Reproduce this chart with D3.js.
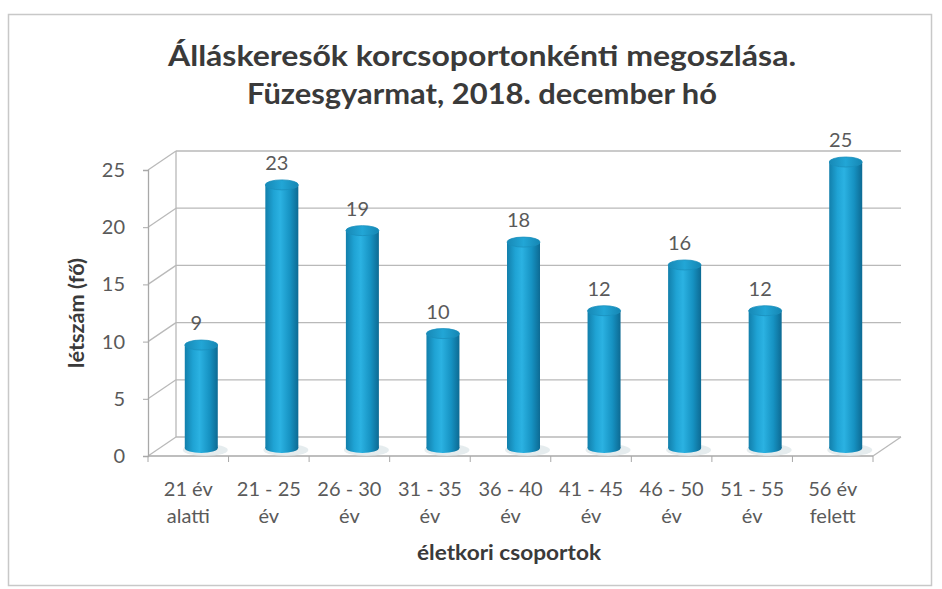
<!DOCTYPE html>
<html><head><meta charset="utf-8">
<script src="https://cdn.jsdelivr.net/npm/d3@7"></script>
<style>body{margin:0;background:#fff}svg{display:block}</style>
</head><body>
<svg id="c" width="942" height="589"></svg>
<script>
const categories = [["21 év","alatti"],["21 - 25","év"],["26 - 30","év"],["31 - 35","év"],["36 - 40","év"],["41 - 45","év"],["46 - 50","év"],["51 - 55","év"],["56 év","felett"]];
const values = [9,23,19,10,18,12,16,12,25];
const yTicks = [0,5,10,15,20,25];
const titleLines = ["Álláskeresők korcsoportonkénti megoszlása.","Füzesgyarmat, 2018. december hó"];
const yTitle = "létszám (fő)";
const xTitle = "életkori csoportok";

const svg = d3.select("#c");
const font = "Lato, 'Open Sans', sans-serif";
// frame
svg.append("rect").attr("x",8.5).attr("y",14.5).attr("width",923).attr("height",571)
  .attr("fill","#fff").attr("stroke","#c8c8c8").attr("stroke-width",1.5);

const pL=148, pR=873, pB=456, pT=170;
const dx=28, dy=-19;
const x = d3.scaleBand().domain(d3.range(categories.length)).range([pL,pR]).paddingInner(0).paddingOuter(0);
const y = d3.scaleLinear().domain([0,25]).range([pB,pT]);

const defs = svg.append("defs");
const g1 = defs.append("linearGradient").attr("id","cyl").attr("x1","0").attr("x2","1").attr("y1","0").attr("y2","0");
[["0%","#127fab"],["25%","#1fa3d4"],["45%","#2bb2e2"],["75%","#1692c2"],["100%","#0d6a93"]].forEach(s=>g1.append("stop").attr("offset",s[0]).attr("stop-color",s[1]));
const g2 = defs.append("linearGradient").attr("id","topg").attr("x1","0").attr("x2","1").attr("y1","0").attr("y2","0");
[["0%","#1789b6"],["50%","#22a6d6"],["100%","#1586b3"]].forEach(s=>g2.append("stop").attr("offset",s[0]).attr("stop-color",s[1]));

const grid = svg.append("g").attr("stroke","#b9b9b9").attr("stroke-width",1.3).attr("fill","none");
yTicks.forEach(t=>{
  const yy=y(t);
  grid.append("line").attr("x1",pL+dx).attr("y1",yy+dy).attr("x2",pR+dx).attr("y2",yy+dy);
  grid.append("line").attr("x1",pL).attr("y1",yy).attr("x2",pL+dx).attr("y2",yy+dy);
});
grid.append("line").attr("x1",pL+dx).attr("y1",y(0)+dy).attr("x2",pL+dx).attr("y2",y(25)+dy);
grid.append("line").attr("x1",pR).attr("y1",pB).attr("x2",pR+dx).attr("y2",pB+dy);

// front y axis
const yAxis = svg.append("g").attr("transform",`translate(${pL},0)`)
  .call(d3.axisLeft(y).tickValues(yTicks).tickSize(5).tickPadding(18));
yAxis.select(".domain").attr("stroke","#a8a8a8").attr("stroke-width",1.3);
yAxis.selectAll(".tick line").attr("stroke","#a8a8a8");
yAxis.selectAll(".tick text").attr("font-family",font).attr("font-size",20).attr("fill","#5a5a5a");

// front x axis
const xa = svg.append("g");
xa.append("line").attr("x1",pL).attr("x2",pR).attr("y1",pB).attr("y2",pB).attr("stroke","#a8a8a8").attr("stroke-width",1.3);
d3.range(categories.length+1).forEach(i=>{
  const xx = pL + i*x.step();
  xa.append("line").attr("x1",xx).attr("x2",xx).attr("y1",pB).attr("y2",pB+6).attr("stroke","#a8a8a8");
});
categories.forEach((c,i)=>{
  const t = xa.append("text").attr("text-anchor","middle").attr("font-family",font).attr("font-size",20).attr("fill","#5a5a5a");
  c.forEach((ln,j)=>t.append("tspan").attr("x",x(i)+x.bandwidth()/2).attr("y",496+j*27).text(ln));
});

// bars
const bx=13, by=-8, bw=33, ry=5;
const bars = svg.append("g");
values.forEach((v,i)=>{
  const cx = x(i)+x.bandwidth()/2+bx;
  const yb = y(0)+by, yt = y(v)+by;
  const g = bars.append("g");
  g.append("ellipse").attr("cx",cx+4).attr("cy",yb+2).attr("rx",bw/2+6).attr("ry",ry+1).attr("fill","#dfe7ea").attr("opacity",0.8);
  g.append("ellipse").attr("cx",cx).attr("cy",yb).attr("rx",bw/2).attr("ry",ry).attr("fill","url(#cyl)");
  g.append("rect").attr("x",cx-bw/2).attr("y",yt).attr("width",bw).attr("height",yb-yt).attr("fill","url(#cyl)");
  g.append("ellipse").attr("cx",cx).attr("cy",yt).attr("rx",bw/2).attr("ry",ry).attr("fill","url(#topg)").attr("stroke","#1a8fbd").attr("stroke-width",0.8);
  svg.append("text").attr("x",cx-5).attr("y",yt-15).attr("text-anchor","middle").attr("font-family",font).attr("font-size",20).attr("fill","#5a5a5a").text(v);
});

// titles
const titleW = [628, 470];
titleLines.forEach((t,i)=>{
  svg.append("text").attr("x",482).attr("y",66+i*38).attr("text-anchor","middle")
    .attr("textLength",titleW[i]).attr("lengthAdjust","spacingAndGlyphs")
    .attr("font-family",font).attr("font-weight","bold").attr("font-size",28).attr("fill","#3a3a3a").text(t);
});
svg.append("text").attr("transform","translate(84,313) rotate(-90)").attr("text-anchor","middle")
  .attr("textLength",110).attr("lengthAdjust","spacingAndGlyphs")
  .attr("font-family",font).attr("font-weight","bold").attr("font-size",20).attr("fill","#3a3a3a").text(yTitle);
svg.append("text").attr("x",509).attr("y",560).attr("text-anchor","middle")
  .attr("textLength",184).attr("lengthAdjust","spacingAndGlyphs")
  .attr("font-family",font).attr("font-weight","bold").attr("font-size",20).attr("fill","#3a3a3a").text(xTitle);
</script>
</body></html>
